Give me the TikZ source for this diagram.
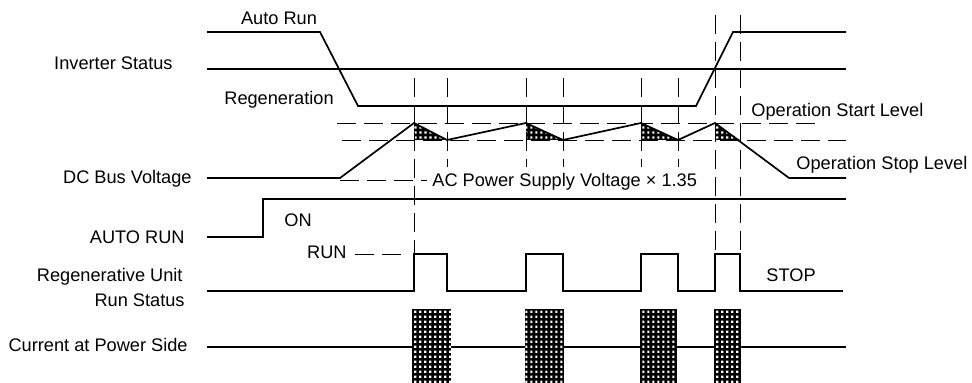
\documentclass[tikz,border=0pt]{standalone}
\usepackage{fontspec}
\setmainfont{Liberation Sans}
\usetikzlibrary{patterns.meta}
\tikzdeclarepattern{
  name=wgrid,
  type=uncolored,
  bounding box={(0pt,0pt) and (2.65pt,2.65pt)},
  tile size={(2.65pt,2.65pt)},
  code={\pgfpathrectangle{\pgfpoint{0.7pt}{0.7pt}}{\pgfpoint{1.25pt}{1.25pt}}\pgfusepath{fill}}
}
\begin{document}
\begin{tikzpicture}[x=0.5pt,y=-0.5pt,
  sig/.style={line width=0.85pt, line join=miter},
  dsh/.style={line width=0.45pt, dash pattern=on 9.5pt off 4pt},
  lbl/.style={inner sep=0pt, font=\fontsize{9.1}{11}\selectfont},
  grid/.style={preaction={fill=black}, pattern=wgrid, pattern color=white}]
\useasboundingbox (0,0) rectangle (972,383);
% labels
\node[lbl, anchor=base] (autorun) at (279,25) {Auto Run};
\node[lbl, anchor=base east] (inv) at (173,70) {Inverter Status};
\node[lbl, anchor=base] (regen) at (279,105) {Regeneration};
\node[lbl, anchor=base east] (dcbus) at (192,184) {DC Bus Voltage};
\node[lbl, anchor=base west] (ac) at (432,187) {AC Power Supply Voltage × 1.35};
\node[lbl, anchor=base east] (autorun2) at (185,244) {AUTO RUN};
\node[lbl, anchor=base west] (on) at (284,227) {ON};
\node[lbl, anchor=base east] (run) at (347,259) {RUN};
\node[lbl, anchor=base east] (ru1) at (183,282) {Regenerative Unit};
\node[lbl, anchor=base east] (ru2) at (185,307) {Run Status};
\node[lbl, anchor=base east] (cur) at (188,352) {Current at Power Side};
\node[lbl, anchor=base west] (stop) at (766,282) {STOP};
\node[lbl, anchor=base west] (start) at (751,117) {Operation Start Level};
\node[lbl, anchor=base west] (stopl) at (796,170) {Operation Stop Level};
% shaded triangles
\path[grid] (414,123) -- (414,140) -- (447,140) -- cycle;
\path[grid] (526,123) -- (526,140) -- (563,140) -- cycle;
\path[grid] (641,123) -- (641,140) -- (678,140) -- cycle;
\path[grid] (715,123) -- (715,140) -- (740,140) -- cycle;
% dashed lines
\draw[dsh] (337,123) -- (816,123);
\draw[dsh] (342,140) -- (846,140);
\draw[dsh] (340,180) -- (427,180);
\draw[dsh] (355,254) -- (408,254);
\draw[dsh] (414,78) -- (414,254);
\foreach \xx in {447,526,563,641,678} \draw[dsh] (\xx,78) -- (\xx,167);
\draw[dsh] (715,15) -- (715,254);
\draw[dsh] (740,15) -- (740,254);
% inverter status
\draw[sig] (207,32) -- (320,32) -- (358,106) -- (696,106) -- (733,32) -- (846,32);
\draw[sig] (207,69) -- (846,69);
% DC bus
\draw[sig] (207,178) -- (340,178) -- (414,123) -- (447,140) -- (526,123) -- (563,140)
  -- (641,123) -- (678,140) -- (715,123) -- (789,178) -- (846,178);
% AUTO RUN
\draw[sig] (207,237) -- (263,237) -- (263,199) -- (846,199);
% Run status
\draw[sig] (207,291) -- (414,291) -- (414,254) -- (447,254) -- (447,291) -- (526,291)
  -- (526,254) -- (563,254) -- (563,291) -- (641,291) -- (641,254) -- (678,254)
  -- (678,291) -- (715,291) -- (715,254) -- (740,254) -- (740,291) -- (843,291);
% current
\draw[sig] (207,347) -- (846,347);
\path[grid] (412,309) rectangle (451,383);
\path[grid] (525,309) rectangle (564,383);
\path[grid] (640,309) rectangle (677,383);
\path[grid] (714,309) rectangle (741,383);
\end{tikzpicture}
\end{document}
